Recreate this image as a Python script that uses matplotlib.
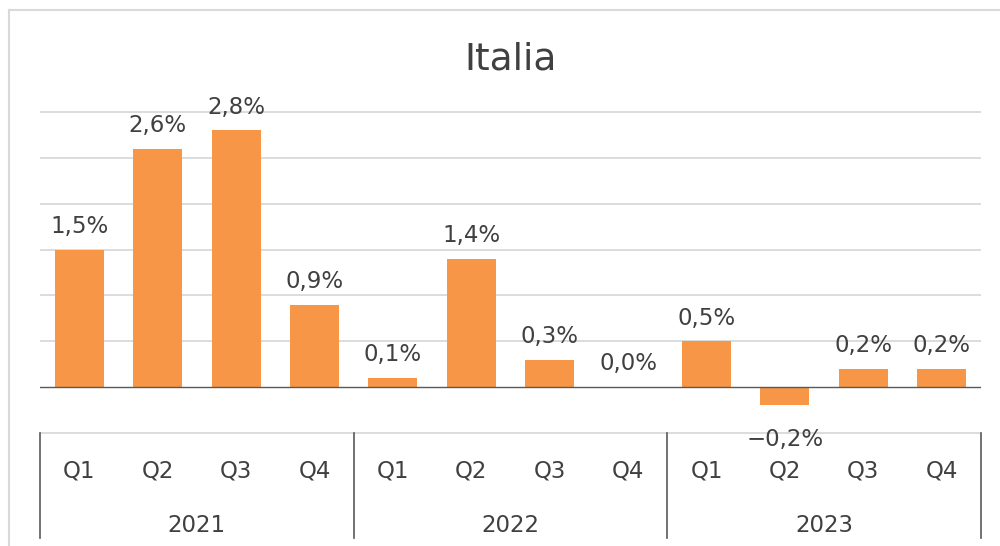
import numpy as np
import matplotlib.pyplot as plt
from matplotlib.lines import Line2D

# quarterly GDP change, Italia
years = ['2021', '2022', '2023']
quarters = ['Q1', 'Q2', 'Q3', 'Q4']
values = [1.5, 2.6, 2.8, 0.9,
          0.1, 1.4, 0.3, 0.0,
          0.5, -0.2, 0.2, 0.2]
grid_vals = [-0.5, 0.5, 1.0, 1.5, 2.0, 2.5, 3.0]

text_col = '#404040'
bar_col = '#F79646'
grid_col = '#D9D9D9'
axis_col = '#595959'

plt.rcParams['font.family'] = ['DejaVu Sans']

fig = plt.figure(figsize=(10, 5.46), dpi=100)
ax = fig.add_axes([0.040, 1 - 433 / 546, 0.941, 321 / 546])

ix = np.arange(len(values))
ax.bar(ix, values, width=0.625, color=bar_col, zorder=2)

ax.set_xlim(-0.5, len(values) - 0.5)
ax.set_ylim(-0.5, 3.0)
ax.hlines(grid_vals, -0.5, len(values) - 0.5, color=grid_col, lw=1.3,
          zorder=0, clip_on=False)
ax.set_yticks([])
ax.set_xticks([])
for s in ax.spines.values():
    s.set_visible(False)
ax.axhline(0, color=axis_col, lw=1.0, zorder=3)

# data labels
for x, v in zip(ix, values):
    lab = ('%.1f%%' % v).replace('.', ',').replace('-', '\u2212')
    off = 12 if v >= 0 else -29
    ax.annotate(lab, (x, v), xytext=(0, off), textcoords='offset points',
                ha='center', va='baseline', fontsize=16.5, color=text_col,
                annotation_clip=False)

# two-level category axis
tr = ax.get_xaxis_transform()
for i, q in enumerate(quarters * len(years)):
    ax.text(i, -0.140, q, transform=tr, ha='center', va='baseline',
            fontsize=16.5, color=text_col)
for k, y in enumerate(years):
    ax.text(4 * k + 1.5, -0.308, y, transform=tr, ha='center', va='baseline',
            fontsize=16.5, color=text_col)
for k in range(len(years) + 1):
    ax.add_line(Line2D([4 * k - 0.5, 4 * k - 0.5], [0, -0.327], transform=tr,
                       color=axis_col, lw=1.2, clip_on=False))

fig.text(0.511, 1 - 70 / 546, 'Italia', ha='center', va='baseline',
         fontsize=27, color=text_col)

# chart border
fig.add_artist(Line2D([0.009, 0.009], [0, 1 - 10 / 546], color=grid_col, lw=1.5))
fig.add_artist(Line2D([0.009, 1], [1 - 10 / 546, 1 - 10 / 546], color=grid_col, lw=1.5))

plt.savefig('out.png', dpi=100)
